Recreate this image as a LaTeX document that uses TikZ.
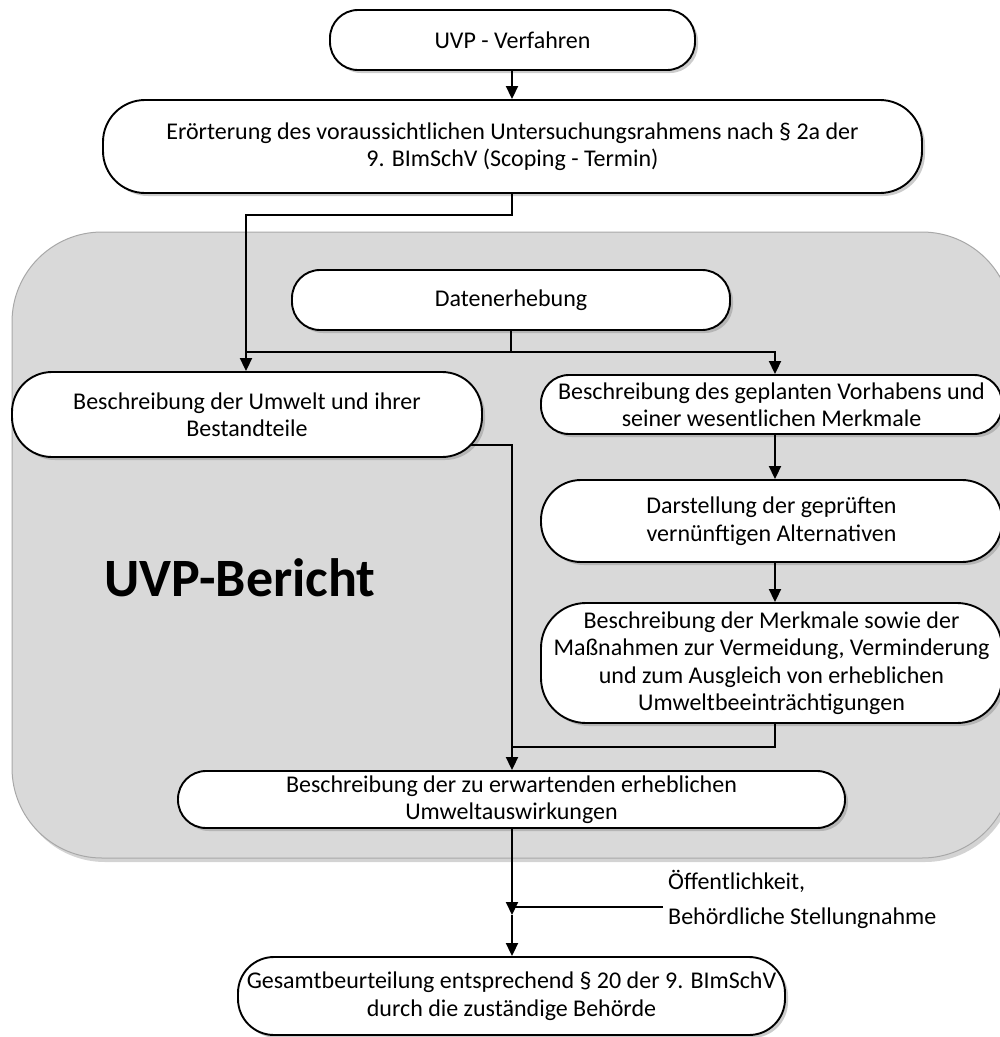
\documentclass[tikz,border=0pt]{standalone}
\usepackage{fontspec}
\setmainfont{Carlito}
\usetikzlibrary{arrows.meta,shadows}
\definecolor{panelgray}{HTML}{D9D9D9}
\definecolor{panelborder}{HTML}{A8A8A8}
\tikzset{
  box/.style={draw=black, line width=1.9pt, fill=white, rounded corners=#1,
    align=center, inner sep=0pt,
    font=\fontsize{24}{27.5}\selectfont,
    drop shadow={opacity=0.4, shadow xshift=3pt, shadow yshift=-3pt}},
  box/.default=28pt,
  conn/.style={draw=black, line width=1.9pt},
  arr/.style={conn, -{Triangle[length=13pt,width=12pt]}},
  lbl/.style={align=left, inner sep=0pt, font=\fontsize{24}{35}\selectfont},
}
\begin{document}
\begin{tikzpicture}[x=1pt,y=-1pt]
\useasboundingbox (0,0) rectangle (1000,1037);
\clip (0,0) rectangle (1000,1037);
% panel
\draw[fill=panelgray, draw=panelborder, line width=1pt, rounded corners=90pt,
  drop shadow={opacity=0.35, shadow xshift=3pt, shadow yshift=-4pt}]
  (12,232) rectangle (1012,858);
\node[font=\fontsize{54}{60}\selectfont\bfseries, text=black] (bericht) at (240,578) {UVP-Bericht};
% boxes
\node[box, minimum width=365pt, minimum height=60pt] (uvp) at (512.5,40) {UVP - Verfahren};
\node[box=42pt, minimum width=819pt, minimum height=93pt] (eroer) at (512.5,146.5)
  {Erörterung des voraussichtlichen Untersuchungsrahmens nach § 2a der\\9. BImSchV (Scoping - Termin)};
\node[box, minimum width=438pt, minimum height=60pt] (daten) at (511,300) {Datenerhebung};
\node[box=40pt, minimum width=470pt, minimum height=85pt] (umwelt) at (247,414.5)
  {Beschreibung der Umwelt und ihrer\\Bestandteile};
\node[box, minimum width=461pt, minimum height=59pt] (vorhaben) at (771.5,404.5)
  {Beschreibung des geplanten Vorhabens und\\seiner wesentlichen Merkmale};
\node[box=40pt, minimum width=461pt, minimum height=82pt] (darst) at (771.5,521)
  {Darstellung der geprüften\\vernünftigen Alternativen};
\node[box=45pt, minimum width=461pt, minimum height=120pt] (merk) at (771.5,663)
  {Beschreibung der Merkmale sowie der\\Maßnahmen zur Vermeidung, Verminderung\\und zum Ausgleich von erheblichen\\Umweltbeeinträchtigungen};
\node[box, minimum width=667pt, minimum height=57pt] (erwart) at (511.5,799.5)
  {Beschreibung der zu erwartenden erheblichen\\Umweltauswirkungen};
\node[box=36pt, minimum width=547pt, minimum height=78pt] (gesamt) at (511.5,996)
  {Gesamtbeurteilung entsprechend § 20 der 9. BImSchV\\durch die zuständige Behörde};
\node[lbl, anchor=west] (oeff) at (668,899) {Öffentlichkeit,\\Behördliche Stellungnahme};
% columns and junctions
\coordinate (colL) at (246,0);
\coordinate (colM) at (512,0);
\coordinate (colR) at (775,0);
\coordinate (j1) at (512,215);
\coordinate (j2) at (511,352);
\coordinate (j3) at (512,747);
\coordinate (j4) at (512,915);
\coordinate (ho) at (663,907);
\coordinate (ue) at ([xshift=-13pt,yshift=-30.5pt]umwelt.east);
% connectors
\draw[arr] (uvp.south -| colM) -- (eroer.north -| colM);
\draw[arr] (eroer.south -| colM) -- (j1) -| (umwelt.north -| colL);
\draw[conn] (daten.south) -- (j2);
\draw[arr] (j2 -| colL) -- (j2 -| colR) -- (vorhaben.north -| colR);
\draw[arr] (vorhaben.south -| colR) -- (darst.north -| colR);
\draw[arr] (darst.south -| colR) -- (merk.north -| colR);
\draw[conn] (merk.south -| colR) |- (j3);
\draw[arr] (ue) -| (erwart.north -| colM);
\draw[arr] (erwart.south -| colM) -- (j4);
\draw[arr] (j4) -- (gesamt.north -| colM);
\draw[conn] (ho) -- (ho -| colM);
\end{tikzpicture}
\end{document}
